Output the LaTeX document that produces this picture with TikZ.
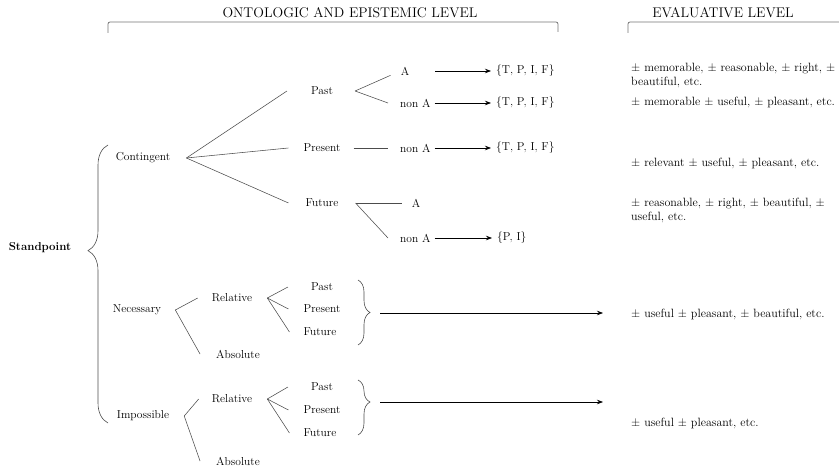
\documentclass[tikz,border=0pt]{standalone}
\usepackage{fontspec}
\usetikzlibrary{arrows.meta,decorations.pathreplacing}
\tikzset{
  branch/.style={line width=0.55pt, black!70},
  bracket/.style={line width=0.8pt, black!55, rounded corners=2pt},
  maparrow/.style={-{Stealth[length=6pt,width=4.5pt]}, line width=0.7pt},
  curly/.style={decorate, decoration={brace, amplitude=#1}, line width=0.6pt, black!70},
  lbl/.style={inner sep=0pt, font=\fontsize{11.5}{14}\selectfont},
  evtext/.style={anchor=west, align=left, inner sep=0pt, font=\fontsize{12}{14}\selectfont},
  hdr/.style={inner sep=0pt, font=\fontsize{14}{16}\selectfont\addfontfeatures{LetterSpace=14}}
}
\begin{document}
\begin{tikzpicture}[x=1pt, y=-1pt]
  \useasboundingbox (0,0) rectangle (839,470);
  % headings
  \node[hdr] (hont) at (350,12.5) {ONTOLOGIC AND EPISTEMIC LEVEL};
  \node[hdr] (heval) at (723,12.5) {EVALUATIVE LEVEL};
  \draw[bracket] (108,33) -- (108,22) -- (558,22) -- (558,32);
  \draw[bracket] (628,33) -- (628,22) -- (839,22);

  % evaluative column
  \node[evtext] (ev1) at (631,75) {± memorable, ± reasonable, ± right, ±\\beautiful, etc.};
  \node[evtext] (ev2) at (631,102) {± memorable ± useful, ± pleasant, etc.};
  \node[evtext] (ev3) at (631,163) {± relevant ± useful, ± pleasant, etc.};
  \node[evtext] (ev4) at (631,210) {± reasonable, ± right, ± beautiful, ±\\useful, etc.};
  \node[evtext] (ev5) at (631,314) {± useful ± pleasant, ± beautiful, etc.};
  \node[evtext] (ev6) at (631,423) {± useful ± pleasant, etc.};

  % standpoint
  \node[lbl, font=\fontsize{11.5}{14}\selectfont\bfseries] (std) at (40,248) {Standpoint};
  \node[lbl] (cont) at (143,158) {Contingent};
  \node[lbl] (nec) at (137,310) {Necessary};
  \node[lbl] (imp) at (143,416) {Impossible};
  \coordinate (sbbot) at (108,423);
  \coordinate (sbtop) at (108,145);
  \draw[curly=20, decoration={aspect=0.62}] (sbbot) -- (sbtop);

  % contingent
  \node[lbl] (past) at (322,91) {Past};
  \node[lbl] (pres) at (322,148) {Present};
  \node[lbl] (fut) at (322,203) {Future};
  \coordinate (cfan) at ([xshift=16pt]cont.east);
  \draw[branch] (cfan) -- ([xshift=-24pt]past.west);
  \draw[branch] (cfan) -- ([xshift=-15pt]pres.west);
  \draw[branch] (cfan) -- ([xshift=-17pt]fut.west);

  \node[lbl] (pa) at (405,71) {A};
  \node[lbl, anchor=west] (pna) at (400,103) {non A};
  \node[lbl, anchor=west] (paset) at (496,71) {\{T, P, I, F\}};
  \node[lbl, anchor=west] (pnaset) at (496,103) {\{T, P, I, F\}};
  \coordinate (pfan) at ([xshift=22pt]past.east);
  \draw[branch] (pfan) -- ([xshift=-10pt]pa.south west);
  \draw[branch] (pfan) -- ([xshift=-12pt]pna.west);
  \draw[maparrow, shorten <=26pt, shorten >=5pt] (pa) -- (paset);
  \draw[maparrow, shorten <=4pt, shorten >=5pt] (pna) -- (pnaset);

  \node[lbl, anchor=west] (prna) at (400,148) {non A};
  \node[lbl, anchor=west] (prnaset) at (496,148) {\{T, P, I, F\}};
  \draw[branch, shorten <=13pt, shorten >=12pt] (pres) -- (prna);
  \draw[maparrow, shorten <=4pt, shorten >=5pt] (prna) -- (prnaset);

  \node[lbl] (fa) at (416,203) {A};
  \node[lbl, anchor=west] (fna) at (400,238) {non A};
  \node[lbl, anchor=west] (fnaset) at (497,238) {\{P, I\}};
  \coordinate (ffan) at ([xshift=17pt]fut.east);
  \draw[branch] (ffan) -- ([xshift=-10pt]fa.west);
  \draw[branch] (ffan) -- ([xshift=-12pt]fna.west);
  \draw[maparrow, shorten <=4pt, shorten >=5pt] (fna) -- (fnaset);

  % necessary
  \node[lbl] (nrel) at (232,298) {Relative};
  \node[lbl] (nabs) at (238,354) {Absolute};
  \coordinate (nfan) at ([xshift=14pt]nec.east);
  \draw[branch] (nfan) -- ([xshift=-14pt]nrel.west);
  \draw[branch] (nfan) -- ([xshift=-16pt]nabs.west);
  \node[lbl] (npast) at (322,287) {Past};
  \node[lbl] (npres) at (322,309) {Present};
  \node[lbl] (nfut) at (320,332) {Future};
  \coordinate (nrfan) at ([xshift=15pt]nrel.east);
  \draw[branch] (nrfan) -- ([xshift=-23pt]npast.west);
  \draw[branch] (nrfan) -- ([xshift=-15pt]npres.west);
  \draw[branch] (nrfan) -- ([xshift=-14pt]nfut.west);
  \coordinate (nbtop) at (358,280);
  \coordinate (nbbot) at (358,345);
  \draw[curly=12, decoration={aspect=0.5}] (nbtop) -- (nbbot);
  \coordinate (ntip) at (370,313);
  \draw[maparrow, shorten >=28pt] ([xshift=10pt]ntip) -- (ntip -| ev5.west);

  % impossible
  \node[lbl] (irel) at (232,399) {Relative};
  \node[lbl] (iabs) at (238,461) {Absolute};
  \coordinate (ifan) at ([xshift=15pt]imp.east);
  \draw[branch] (ifan) -- ([xshift=-13pt]irel.west);
  \draw[branch] (ifan) -- ([xshift=-16pt]iabs.west);
  \node[lbl] (ipast) at (322,387) {Past};
  \node[lbl] (ipres) at (322,410) {Present};
  \node[lbl] (ifut) at (320,433) {Future};
  \coordinate (irfan) at ([xshift=15pt]irel.east);
  \draw[branch] (irfan) -- ([xshift=-23pt]ipast.west);
  \draw[branch] (irfan) -- ([xshift=-15pt]ipres.west);
  \draw[branch] (irfan) -- ([xshift=-14pt]ifut.west);
  \coordinate (ibtop) at (358,380);
  \coordinate (ibbot) at (358,435);
  \draw[curly=12, decoration={aspect=0.4}] (ibtop) -- (ibbot);
  \coordinate (itip) at (370,402);
  \draw[maparrow, shorten >=28pt] ([xshift=10pt]itip) -- (itip -| ev6.west);
\end{tikzpicture}
\end{document}
